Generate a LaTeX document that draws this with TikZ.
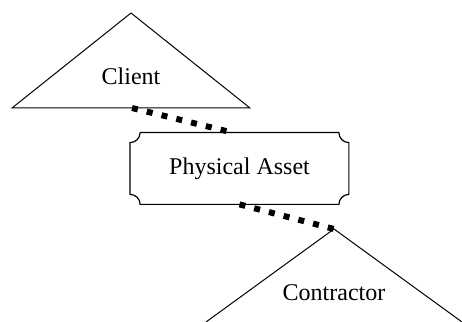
\documentclass[tikz,border=0pt]{standalone}
\usepackage{fontspec}
\setmainfont{Liberation Serif}
\usetikzlibrary{calc}
\def\notch{5pt}

\begin{document}
\begin{tikzpicture}[x=0.5pt,y=0.5pt,
    party/.style={line width=0.5pt,line join=miter},
    label/.style={font=\fontsize{12}{14}\selectfont,inner sep=0pt},
    link/.style={line width=3pt,dash pattern=on 3pt off 4.6pt}]
        \useasboundingbox (0,0) rectangle (462,322);
        %
        % Client
        \coordinate (clienttop) at (131,309);
        \draw[party] (12,214) -- (clienttop) -- (250,214) -- cycle;
        \node[label] (client) at (131,246) {Client};
        \coordinate (clientfoot) at (132,214);
        %
        % Physical Asset (concave corners)
        \node[label,minimum width=109pt,minimum height=35.5pt] (asset) at (239.5,153.5) {Physical Asset};
        \draw[line width=0.6pt]
            ($(asset.north west)+(\notch,0)$) -- ($(asset.north east)+(-\notch,0)$)
            arc[start angle=180,end angle=270,radius=\notch]
            -- ($(asset.south east)+(0,\notch)$)
            arc[start angle=90,end angle=180,radius=\notch]
            -- ($(asset.south west)+(\notch,0)$)
            arc[start angle=0,end angle=90,radius=\notch]
            -- ($(asset.north west)+(0,-\notch)$)
            arc[start angle=270,end angle=360,radius=\notch];
        %
        % Contractor
        \coordinate (contractortop) at (334,93);
        \draw[party] (206,0) -- (contractortop) -- (462,0);
        \node[label] (contractor) at (334,29) {Contractor};
        %
        \draw[link] (clientfoot) -- ([xshift=-3.5pt]asset.north);
        \draw[link] (asset.south) -- (contractortop);
      \end{tikzpicture}
\end{document}
